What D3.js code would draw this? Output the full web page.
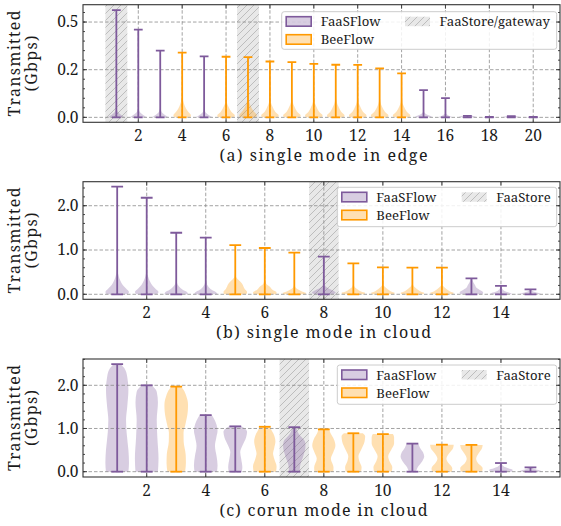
<!DOCTYPE html>
<html>
<head>
<meta charset="utf-8">
<script src="https://cdn.jsdelivr.net/npm/d3@7/dist/d3.min.js"></script>
<style>
  body { margin:0; background:#fff; }
  svg { display:block; }
</style>
</head>
<body>
<svg id="chart" width="561" height="526"></svg>
<script>
/* ---------- data ---------- */
// (a) single mode in edge
const edgePositions = [1,2,3,4,5,6,7,8,9,10,11,12,13,14,15,16,17,18,19,20];
const edgeSeries = ['FaaSFlow','FaaSFlow','FaaSFlow','BeeFlow','FaaSFlow','BeeFlow','BeeFlow','BeeFlow','BeeFlow','BeeFlow',
                    'BeeFlow','BeeFlow','BeeFlow','BeeFlow','FaaSFlow','FaaSFlow','FaaSFlow','FaaSFlow','FaaSFlow','FaaSFlow'];
const edgeMax = [0.563,0.46,0.35,0.34,0.32,0.318,0.316,0.293,0.29,0.281,0.276,0.275,0.257,0.231,0.143,0.101,0.008,0.002,0.006,0.002];
// violin outlines: [value, relative half width]
const edgeShapes = [
  [[0,1.0],[0.01,0.65],[0.02,0.35],[0.035,0.1],[0.06,0.02],[0.563,0]],
  [[0,1.0],[0.01,0.65],[0.02,0.35],[0.035,0.1],[0.06,0.02],[0.46,0]],
  [[0,1.0],[0.01,0.62],[0.02,0.32],[0.035,0.1],[0.06,0.02],[0.35,0]],
  [[0,0.9],[0.01,1.0],[0.035,0.6],[0.06,0.3],[0.09,0.1],[0.13,0.02],[0.34,0]],
  [[0,1.0],[0.01,0.6],[0.02,0.3],[0.035,0.08],[0.06,0.02],[0.32,0]],
  [[0,0.9],[0.01,1.0],[0.03,0.6],[0.055,0.28],[0.08,0.08],[0.12,0.02],[0.318,0]],
  [[0,0.9],[0.01,1.0],[0.035,0.6],[0.06,0.3],[0.09,0.1],[0.13,0.02],[0.316,0]],
  [[0,0.9],[0.01,1.0],[0.03,0.6],[0.055,0.3],[0.08,0.1],[0.12,0.02],[0.293,0]],
  [[0,0.9],[0.01,1.0],[0.03,0.6],[0.055,0.3],[0.08,0.1],[0.12,0.02],[0.29,0]],
  [[0,0.9],[0.01,1.0],[0.03,0.6],[0.055,0.3],[0.08,0.1],[0.12,0.02],[0.281,0]],
  [[0,0.9],[0.01,1.0],[0.03,0.62],[0.055,0.32],[0.08,0.11],[0.12,0.02],[0.276,0]],
  [[0,0.9],[0.01,1.0],[0.03,0.6],[0.055,0.3],[0.08,0.1],[0.12,0.02],[0.275,0]],
  [[0,0.9],[0.01,1.0],[0.03,0.6],[0.055,0.28],[0.08,0.09],[0.12,0.02],[0.257,0]],
  [[0,0.9],[0.01,1.0],[0.03,0.6],[0.055,0.28],[0.08,0.09],[0.12,0.02],[0.231,0]],
  [[0,1.0],[0.005,0.9],[0.012,0.5],[0.02,0.2],[0.035,0.03],[0.143,0]],
  [[0,1.0],[0.005,0.6],[0.012,0.25],[0.025,0.03],[0.101,0]],
  [[0,1.0],[0.004,0.9],[0.008,0.6]],
  [[0,1.0],[0.001,0.9],[0.002,0.6]],
  [[0,1.0],[0.003,0.9],[0.006,0.6]],
  [[0,1.0],[0.001,0.9],[0.002,0.6]]
];
const edgeSpans = [[0.5,1.5],[6.5,7.5]];
const edgeXTicks = [2,4,6,8,10,12,14,16,18,20];
const edgeYTicks = [0,0.25,0.5];
const edgeYTickLabels = ['0.0','0.2','0.5'];

// (b) single mode in cloud
const cloudPositions = [1,2,3,4,5,6,7,8,9,10,11,12,13,14,15];
const cloudSeries = ['FaaSFlow','FaaSFlow','FaaSFlow','FaaSFlow','BeeFlow','BeeFlow','BeeFlow','FaaSFlow',
                     'BeeFlow','BeeFlow','BeeFlow','BeeFlow','FaaSFlow','FaaSFlow','FaaSFlow'];
const cloudMax = [2.43,2.18,1.39,1.28,1.11,1.045,0.94,0.85,0.70,0.61,0.60,0.60,0.36,0.19,0.11];
const cloudShapes = [
  [[0,0.9],[0.05,1.0],[0.13,0.75],[0.21,0.47],[0.3,0.28],[0.42,0.12],[0.55,0.03],[0.8,0.01],[2.43,0]],
  [[0,0.85],[0.05,1.0],[0.13,0.72],[0.21,0.45],[0.3,0.26],[0.42,0.1],[0.55,0.03],[0.8,0.01],[2.18,0]],
  [[0,1.0],[0.04,0.95],[0.1,0.55],[0.18,0.22],[0.28,0.05],[0.45,0.01],[1.39,0]],
  [[0,1.0],[0.04,0.9],[0.1,0.5],[0.18,0.2],[0.28,0.05],[0.45,0.01],[1.28,0]],
  [[0,0.95],[0.05,1.0],[0.12,0.8],[0.25,0.55],[0.32,0.28],[0.4,0.06],[0.55,0.01],[1.11,0]],
  [[0,0.95],[0.04,1.0],[0.1,0.65],[0.17,0.43],[0.24,0.12],[0.35,0.02],[1.045,0]],
  [[0,0.9],[0.03,1.0],[0.06,0.7],[0.1,0.37],[0.15,0.12],[0.22,0.02],[0.94,0]],
  [[0,0.8],[0.04,1.0],[0.08,0.8],[0.13,0.4],[0.2,0.1],[0.28,0.02],[0.85,0]],
  [[0,0.9],[0.03,1.0],[0.07,0.6],[0.11,0.38],[0.16,0.12],[0.23,0.02],[0.70,0]],
  [[0,0.9],[0.03,1.0],[0.07,0.65],[0.12,0.38],[0.18,0.12],[0.25,0.02],[0.61,0]],
  [[0,0.9],[0.03,1.0],[0.07,0.65],[0.12,0.38],[0.18,0.12],[0.25,0.02],[0.60,0]],
  [[0,0.9],[0.03,1.0],[0.07,0.65],[0.12,0.38],[0.18,0.12],[0.25,0.02],[0.60,0]],
  [[0,0.9],[0.04,1.0],[0.09,0.75],[0.14,0.45],[0.21,0.3],[0.28,0.15],[0.36,0.05]],
  [[0,1.0],[0.03,0.8],[0.07,0.35],[0.12,0.12],[0.19,0.03]],
  [[0,1.0],[0.03,0.7],[0.06,0.3],[0.11,0.05]]
];
const cloudSpans = [[7.5,8.5]];

// (c) corun mode in cloud
const corunPositions = [1,2,3,4,5,6,7,8,9,10,11,12,13,14,15];
const corunSeries = ['FaaSFlow','FaaSFlow','BeeFlow','FaaSFlow','FaaSFlow','BeeFlow','FaaSFlow','BeeFlow',
                     'BeeFlow','BeeFlow','FaaSFlow','BeeFlow','BeeFlow','FaaSFlow','FaaSFlow'];
const corunMax = [2.49,2.0,1.97,1.31,1.05,1.04,1.03,0.98,0.89,0.87,0.65,0.625,0.62,0.2,0.1];
const corunShapes = [
  [[0,0.95],[0.2,1.0],[0.5,0.95],[0.9,0.8],[1.2,0.75],[1.5,0.85],[1.9,0.95],[2.2,0.85],[2.4,0.6],[2.49,0.3]],
  [[0,0.95],[0.3,1.0],[0.8,0.9],[1.2,0.85],[1.6,0.95],[1.85,0.85],[2.0,0.4]],
  [[0,0.75],[0.2,0.82],[0.4,0.8],[0.7,0.63],[0.9,0.62],[1.1,0.78],[1.4,0.98],[1.55,1.0],[1.75,0.85],[1.9,0.6],[1.97,0.4]],
  [[0,0.95],[0.15,1.0],[0.35,0.92],[0.6,0.78],[0.8,0.9],[0.95,1.0],[1.1,0.9],[1.25,0.65],[1.31,0.5]],
  [[0,0.55],[0.1,0.6],[0.3,0.5],[0.45,0.42],[0.6,0.6],[0.8,0.92],[0.92,1.0],[1.0,0.8],[1.05,0.5]],
  [[0,0.95],[0.12,1.0],[0.3,0.8],[0.42,0.7],[0.55,0.8],[0.7,0.9],[0.85,0.78],[1.0,0.5],[1.04,0.45]],
  [[0,0.45],[0.15,0.5],[0.35,0.75],[0.6,0.95],[0.7,0.9],[0.85,0.45],[0.95,0.25],[1.03,0.2]],
  [[0,0.8],[0.1,0.82],[0.3,0.6],[0.45,0.8],[0.6,0.98],[0.75,0.85],[0.9,0.55],[0.98,0.45]],
  [[0,0.65],[0.1,0.7],[0.25,0.5],[0.35,0.43],[0.5,0.65],[0.7,0.95],[0.82,1.0],[0.89,0.8]],
  [[0,0.75],[0.1,0.8],[0.25,0.55],[0.35,0.45],[0.5,0.7],[0.65,0.95],[0.8,0.95],[0.87,0.85]],
  [[0,0.3],[0.1,0.45],[0.25,0.85],[0.35,1.0],[0.45,0.9],[0.55,0.65],[0.65,0.5]],
  [[0,0.85],[0.08,0.88],[0.2,0.55],[0.3,0.38],[0.42,0.6],[0.55,0.95],[0.625,1.0]],
  [[0,0.9],[0.08,0.95],[0.2,0.55],[0.3,0.4],[0.42,0.6],[0.55,0.9],[0.62,0.95]],
  [[0,0.9],[0.04,1.0],[0.08,0.6],[0.12,0.25],[0.16,0.1],[0.2,0.05]],
  [[0,1.0],[0.03,0.8],[0.06,0.3],[0.1,0.1]]
];
const corunSpans = [[6.5,7.5]];

const cloudXTicks = [2,4,6,8,10,12,14];
const cloudYTicks = [0,1,2];
const cloudYTickLabels = ['0.0','1.0','2.0'];

const seriesColor = { FaaSFlow:'#7e5a9b', BeeFlow:'#ff9900' };

/* ---------- svg setup ---------- */
// DejaVu Serif is not installed; Noto Serif is the closest wide serif
const FONT = '"Noto Serif", "DejaVu Serif", serif';
const svg = d3.select('#chart');
const defs = svg.append('defs');

// pick a font size so that a string spans the width seen in the reference
function fitSize(str, width){
  const t = svg.append('text').attr('font-family', FONT).attr('font-size', 20).text(str);
  const w = t.node().getComputedTextLength();
  t.remove();
  return 20 * width / w;
}
const legendSize = fitSize('FaaSFlow', 60);
const tickSize = 15.5;
const labelSize = 16;

const hatch = defs.append('pattern').attr('id','hatch')
  .attr('patternUnits','userSpaceOnUse').attr('width',7).attr('height',7);
hatch.append('rect').attr('width',7).attr('height',7).attr('fill','#e8e8e8');
hatch.append('path').attr('d','M-1,1 l2,-2 M0,7 l7,-7 M6,8 l2,-2')
  .attr('stroke','#b3b3b3').attr('stroke-width',0.8);

const plotLeft = 83, plotRight = 560;
const halfWidth = 0.4;   // violin widths 0.8

function drawPanel(p){
  const g = svg.append('g');
  const x = d3.scaleLinear().domain(p.xDomain).range([plotLeft, plotRight]);
  const y = d3.scaleLinear().domain(p.yDomain).range([p.bottom, p.top]);

  const clipId = 'clip' + p.id;
  defs.append('clipPath').attr('id', clipId).append('rect')
    .attr('x', plotLeft).attr('y', p.top)
    .attr('width', plotRight - plotLeft).attr('height', p.bottom - p.top);
  const inner = g.append('g').attr('clip-path', `url(#${clipId})`);

  // shaded FaaStore spans
  inner.selectAll('.span').data(p.spans).enter().append('rect')
    .attr('x', d => x(d[0])).attr('width', d => x(d[1]) - x(d[0]))
    .attr('y', p.top).attr('height', p.bottom - p.top)
    .attr('fill','url(#hatch)');

  // violin bodies
  const area = d3.area()
    .curve(d3.curveMonotoneY)
    .y(d => y(d[0]));
  inner.selectAll('.body').data(p.positions).enter().append('path')
    .attr('d', (pos,i) => area
      .x0(d => x(pos - d[1]*halfWidth))
      .x1(d => x(pos + d[1]*halfWidth))(p.shapes[i]))
    .attr('fill', (pos,i) => seriesColor[p.series[i]])
    .attr('fill-opacity', 0.3);

  // grid
  inner.selectAll('.gx').data(p.xTicks).enter().append('line')
    .attr('x1', d => x(d)).attr('x2', d => x(d))
    .attr('y1', p.top).attr('y2', p.bottom)
    .attr('stroke','#8c8c8c').attr('stroke-width',0.8).attr('stroke-dasharray','3.5,2');
  inner.selectAll('.gy').data(p.yTicks).enter().append('line')
    .attr('x1', plotLeft).attr('x2', plotRight)
    .attr('y1', d => y(d)).attr('y2', d => y(d))
    .attr('stroke','#8c8c8c').attr('stroke-width',0.8).attr('stroke-dasharray','3.5,2');

  // violin stems and caps
  const v = inner.selectAll('.vl').data(p.positions).enter().append('g')
    .attr('stroke', (pos,i) => seriesColor[p.series[i]])
    .attr('stroke-width', 1.8).attr('fill','none');
  v.append('line')
    .attr('x1', d => x(d)).attr('x2', d => x(d))
    .attr('y1', y(0)).attr('y2', (d,i) => y(p.max[i]));
  v.append('line')
    .attr('x1', d => x(d - halfWidth/2)).attr('x2', d => x(d + halfWidth/2))
    .attr('y1', y(0)).attr('y2', y(0));
  v.append('line')
    .attr('x1', d => x(d - halfWidth/2)).attr('x2', d => x(d + halfWidth/2))
    .attr('y1', (d,i) => y(p.max[i])).attr('y2', (d,i) => y(p.max[i]));

  // legend
  const L = p.legend;
  const lg = g.append('g');
  lg.append('rect').attr('x', L.x).attr('y', L.y).attr('width', L.w).attr('height', L.h)
    .attr('rx', 2.5).attr('fill','#fff').attr('fill-opacity',0.85)
    .attr('stroke','#cccccc').attr('stroke-width',1);
  const items = [
    { label:'FaaSFlow', col:0, row:0, kind:'FaaSFlow' },
    { label:'BeeFlow',  col:0, row:1, kind:'BeeFlow' },
    { label:p.spanLabel, col:1, row:0, kind:'span' }
  ];
  items.forEach(it => {
    const px = L.x + (it.col ? L.col2 : 4.5);
    const py = L.y + 5 + it.row * 18;
    const r = lg.append('rect').attr('x', px).attr('y', py).attr('width', 25).attr('height', 9.5);
    if (it.kind === 'span') {
      r.attr('fill','url(#hatch)');
    } else {
      r.attr('fill', seriesColor[it.kind]).attr('fill-opacity',0.3)
        .attr('stroke', seriesColor[it.kind]).attr('stroke-width',1.6);
    }
    lg.append('text').attr('x', px + 34.5).attr('y', py + 9.6)
      .attr('font-family', FONT).attr('font-size', legendSize).attr('fill','#1a1a1a').text(it.label);
  });

  // frame
  g.append('rect').attr('x', plotLeft).attr('y', p.top)
    .attr('width', plotRight - plotLeft).attr('height', p.bottom - p.top)
    .attr('fill','none').attr('stroke','#333').attr('stroke-width',1.1);

  // ticks: in, on all sides
  const tk = g.append('g').attr('stroke','#333').attr('stroke-width',0.9);
  p.xTicks.forEach(t => {
    tk.append('line').attr('x1', x(t)).attr('x2', x(t)).attr('y1', p.bottom).attr('y2', p.bottom - 4);
    tk.append('line').attr('x1', x(t)).attr('x2', x(t)).attr('y1', p.top).attr('y2', p.top + 4);
  });
  p.yTicks.forEach(t => {
    tk.append('line').attr('x1', plotLeft).attr('x2', plotLeft + 4).attr('y1', y(t)).attr('y2', y(t));
    tk.append('line').attr('x1', plotRight).attr('x2', plotRight - 4).attr('y1', y(t)).attr('y2', y(t));
  });
  p.yMinor.forEach(t => {
    if (y(t) < p.top || y(t) > p.bottom) return;
    tk.append('line').attr('x1', plotLeft).attr('x2', plotLeft + 2).attr('y1', y(t)).attr('y2', y(t));
    tk.append('line').attr('x1', plotRight).attr('x2', plotRight - 2).attr('y1', y(t)).attr('y2', y(t));
  });

  // tick labels
  g.selectAll('.xl').data(p.xTicks).enter().append('text')
    .attr('x', d => x(d)).attr('y', p.bottom + 18.5)
    .attr('text-anchor','middle').attr('font-family', FONT).attr('font-size', tickSize).attr('fill','#1a1a1a')
    .text(d => d);
  g.selectAll('.yl').data(p.yTicks).enter().append('text')
    .attr('x', plotLeft - 4.5).attr('y', d => y(d) + 5.3)
    .attr('text-anchor','end').attr('font-family', FONT).attr('font-size', tickSize).attr('fill','#1a1a1a')
    .text((d,i) => p.yTickLabels[i]);

  // axis labels (stretched to the width of the original wider serif)
  g.append('text').attr('x', (plotLeft + plotRight)/2 + 2).attr('y', p.bottom + 39)
    .attr('text-anchor','middle').attr('font-family', FONT).attr('font-size', labelSize).attr('fill','#1a1a1a')
    .attr('textLength', p.xLabelWidth).attr('lengthAdjust','spacing')
    .text(p.xLabel);
  const cy = (p.top + p.bottom)/2;
  const yl = g.append('text').attr('transform', `translate(0,${cy}) rotate(-90)`)
    .attr('text-anchor','middle').attr('font-family', FONT).attr('font-size', labelSize).attr('fill','#1a1a1a');
  yl.append('tspan').attr('x',0).attr('y',20).attr('textLength',106).attr('lengthAdjust','spacing').text('Transmitted');
  yl.append('tspan').attr('x',0).attr('y',37).attr('textLength',56).attr('lengthAdjust','spacing').text('(Gbps)');
}

drawPanel({
  id:'a', top:4.7, bottom:122.3, xDomain:[-0.52, 21.22], yDomain:[-0.026, 0.591],
  positions:edgePositions, series:edgeSeries, max:edgeMax, shapes:edgeShapes, spans:edgeSpans,
  xTicks:edgeXTicks, yTicks:edgeYTicks, yTickLabels:edgeYTickLabels,
  yMinor:d3.range(0, 0.6, 0.05), xLabel:'(a) single mode in edge', xLabelWidth:208, spanLabel:'FaaStore/gateway',
  legend:{ x:281.7, y:11.7, w:275, h:37.6, col2:123.3 }
});
drawPanel({
  id:'b', top:181.7, bottom:299.3, xDomain:[-0.158, 16.0], yDomain:[-0.113, 2.542],
  positions:cloudPositions, series:cloudSeries, max:cloudMax, shapes:cloudShapes, spans:cloudSpans,
  xTicks:cloudXTicks, yTicks:cloudYTicks, yTickLabels:cloudYTickLabels,
  yMinor:d3.range(0, 2.6, 0.2), xLabel:'(b) single mode in cloud', xLabelWidth:215, spanLabel:'FaaStore',
  legend:{ x:337.3, y:187.3, w:219.4, h:39.4, col2:124.4 }
});
drawPanel({
  id:'c', top:359, bottom:477, xDomain:[-0.158, 16.0], yDomain:[-0.123, 2.609],
  positions:corunPositions, series:corunSeries, max:corunMax, shapes:corunShapes, spans:corunSpans,
  xTicks:cloudXTicks, yTicks:cloudYTicks, yTickLabels:cloudYTickLabels,
  yMinor:d3.range(0, 2.7, 0.2), xLabel:'(c) corun mode in cloud', xLabelWidth:208, spanLabel:'FaaStore',
  legend:{ x:337.3, y:365, w:219.4, h:39.3, col2:124.4 }
});
</script>
</body>
</html>
